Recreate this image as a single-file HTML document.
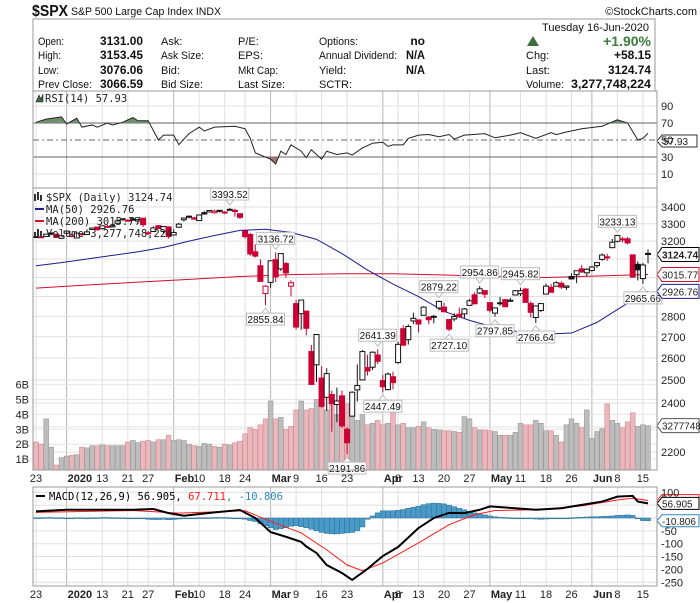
<!DOCTYPE html>
<html><head><meta charset="utf-8">
<style>
html,body{margin:0;padding:0;background:#fff;}
body{width:700px;height:603px;overflow:hidden;font-family:"Liberation Sans",sans-serif;}
svg{display:block;}
.hd{font-family:"Liberation Sans",sans-serif;font-size:11px;fill:#111;}
.hb{font-family:"Liberation Sans",sans-serif;font-size:12px;font-weight:bold;fill:#111;}
.ax{font-family:"Liberation Sans",sans-serif;font-size:11px;fill:#222;}
.tg{font-family:"Liberation Sans",sans-serif;font-size:10px;fill:#222;}
.axb{font-family:"Liberation Sans",sans-serif;font-size:11px;font-weight:bold;fill:#222;}
.lbl{font-family:"DejaVu Sans Mono","Liberation Mono",monospace;font-size:10.5px;fill:#222;}
.co{font-family:"Liberation Sans",sans-serif;font-size:10px;fill:#111;}
</style></head>
<body>
<svg id="chart" width="700" height="603" viewBox="0 0 700 603" xmlns="http://www.w3.org/2000/svg">
<defs>
<clipPath id="clipMain"><rect x="33" y="188" width="624" height="282"/></clipPath>
<clipPath id="clipRsi"><rect x="33" y="91" width="624" height="97"/></clipPath>
<clipPath id="clipMacd"><rect x="33" y="487" width="624" height="99"/></clipPath>
<clipPath id="clipOver70"><rect x="33" y="91" width="624" height="32"/></clipPath>
<clipPath id="clipUnder30"><rect x="33" y="157" width="624" height="31"/></clipPath>
</defs>
<g>
<text x="32" y="16" font-family="Liberation Sans,sans-serif" font-size="16" font-weight="bold" fill="#111" textLength="36" lengthAdjust="spacingAndGlyphs">$SPX</text>
<text x="71" y="15" class="hd" textLength="150" lengthAdjust="spacingAndGlyphs">S&amp;P 500 Large Cap Index  INDX</text>
<text x="697" y="15" class="hd" text-anchor="end" font-size="10.5">©StockCharts.com</text>
<rect x="33" y="19" width="622" height="72" fill="none" stroke="#999"/>
<text x="649" y="31" class="hd" text-anchor="end" textLength="107" lengthAdjust="spacingAndGlyphs">Tuesday  16-Jun-2020</text>
<text x="38" y="45" class="hd" textLength="26" lengthAdjust="spacingAndGlyphs">Open:</text>
<text x="143" y="45" class="hb" text-anchor="end" textLength="43" lengthAdjust="spacingAndGlyphs">3131.00</text>
<text x="38" y="59" class="hd" textLength="23" lengthAdjust="spacingAndGlyphs">High:</text>
<text x="143" y="59" class="hb" text-anchor="end" textLength="43" lengthAdjust="spacingAndGlyphs">3153.45</text>
<text x="38" y="74" class="hd" textLength="21" lengthAdjust="spacingAndGlyphs">Low:</text>
<text x="143" y="74" class="hb" text-anchor="end" textLength="43" lengthAdjust="spacingAndGlyphs">3076.06</text>
<text x="38" y="88" class="hd" textLength="54" lengthAdjust="spacingAndGlyphs">Prev Close:</text>
<text x="143" y="88" class="hb" text-anchor="end" textLength="43" lengthAdjust="spacingAndGlyphs">3066.59</text>
<text x="161" y="45" class="hd">Ask:</text>
<text x="161" y="59" class="hd" textLength="43" lengthAdjust="spacingAndGlyphs">Ask Size:</text>
<text x="161" y="74" class="hd">Bid:</text>
<text x="161" y="88" class="hd" textLength="42" lengthAdjust="spacingAndGlyphs">Bid Size:</text>
<text x="238" y="45" class="hd">P/E:</text>
<text x="238" y="59" class="hd">EPS:</text>
<text x="238" y="74" class="hd" textLength="40" lengthAdjust="spacingAndGlyphs">Mkt Cap:</text>
<text x="238" y="88" class="hd" textLength="47" lengthAdjust="spacingAndGlyphs">Last Size:</text>
<text x="319" y="45" class="hd" textLength="39" lengthAdjust="spacingAndGlyphs">Options:</text>
<text x="425" y="45" class="hb" text-anchor="end">no</text>
<text x="319" y="59" class="hd" textLength="78" lengthAdjust="spacingAndGlyphs">Annual Dividend:</text>
<text x="425" y="59" class="hb" text-anchor="end" textLength="19" lengthAdjust="spacingAndGlyphs">N/A</text>
<text x="319" y="74" class="hd">Yield:</text>
<text x="425" y="74" class="hb" text-anchor="end" textLength="19" lengthAdjust="spacingAndGlyphs">N/A</text>
<text x="319" y="88" class="hd">SCTR:</text>
<polygon points="527,46 533,36 539,46" fill="#3d6b3d"/>
<text x="651" y="46" text-anchor="end" font-family="Liberation Sans,sans-serif" font-size="14" font-weight="bold" fill="#3d7a3d">+1.90%</text>
<text x="526" y="59" class="hd">Chg:</text>
<text x="651" y="59" class="hb" text-anchor="end" textLength="37" lengthAdjust="spacingAndGlyphs">+58.15</text>
<text x="526" y="74" class="hd">Last:</text>
<text x="651" y="74" class="hb" text-anchor="end" textLength="43" lengthAdjust="spacingAndGlyphs">3124.74</text>
<text x="526" y="88" class="hd" textLength="38" lengthAdjust="spacingAndGlyphs">Volume:</text>
<text x="651" y="88" class="hb" text-anchor="end" textLength="80" lengthAdjust="spacingAndGlyphs">3,277,748,224</text>
</g>
<g id="grid"></g>
<g id="rsi"></g>
<g id="main"></g>
<g id="macd"></g>
<g id="axes"></g>
</svg>
<script>
// ---------- data ----------
const dayCount = 121; // Dec 23 2019 .. Jun 16 2020
const openP = [3226,3225,3227,3247,3240,3216,
3245,3226,3218,3242,3238,3267,3281,3272,3285,3282,3303,3323,3321,3330,3316,3333,3248,3255,3289,3256,3282,
3235,3280,3324,3344,3335,3319,3366,3370,3365,3378,3370,3380,3380,3360,3258,3238,3140,3063,2916,
2974,3096,3046,3075,2954,2864,2813,2826,2630,2569,2509,2425,2437,2394,2431,2291,2345,2457,2501,2556,2558,2614,
2498,2458,2515,2579,2739,2686,2777,2782,2805,2796,2799,2842,2846,2784,2787,2810,2812,2855,2909,2918,2931,
2869,2816,2868,2884,2879,2908,2915,2939,2865,2794,2829,2913,2948,2954,2969,2948,3005,3015,3046,3025,
3038,3064,3098,3112,3163,3199,3213,3213,3123,3071,2994,3131];
const highP = [3227,3226,3240,3247,3241,3232,
3258,3246,3247,3245,3268,3275,3283,3289,3294,3299,3317,3330,3329,3337,3326,3334,3258,3285,3293,3286,3282,
3268,3306,3337,3348,3341,3352,3375,3381,3385,3380,3375,3394,3390,3360,3259,3247,3182,3098,2959,
3091,3137,3131,3084,2985,2883,2882,2826,2661,2712,2563,2553,2454,2467,2454,2300,2450,2571,2637,2615,2631,2641,
2522,2534,2538,2676,2756,2760,2818,2782,2851,2801,2807,2879,2868,2785,2815,2844,2842,2887,2922,2955,2931,
2869,2843,2898,2888,2893,2933,2946,2945,2875,2852,2865,2968,2965,2980,2979,2956,3022,3036,3068,3050,
3063,3081,3131,3129,3212,3233,3223,3223,3124,3088,3079,3153];
const lowP = [3222,3220,3227,3234,3217,3212,
3236,3222,3215,3233,3236,3264,3260,3267,3277,3281,3302,3318,3316,3320,3301,3281,3234,3255,3272,3243,3214,
3235,3280,3313,3332,3322,3317,3353,3369,3360,3367,3357,3379,3342,3328,3214,3118,3108,2977,2856,
2946,2976,3035,2999,2901,2735,2734,2707,2478,2492,2381,2367,2281,2320,2296,2192,2345,2407,2500,2521,2545,2572,
2447,2455,2459,2574,2657,2663,2762,2721,2805,2761,2765,2830,2820,2727,2775,2791,2791,2853,2860,2913,2892,
2821,2798,2853,2847,2872,2907,2903,2869,2794,2767,2821,2913,2922,2954,2938,2934,2991,2970,3024,3007,
3032,3051,3091,3090,3163,3193,3194,3181,2999,2984,2966,3076];
const closeP = [3224,3223,3240,3240,3221,3231,
3258,3235,3246,3237,3253,3275,3265,3288,3283,3289,3317,3330,3321,3321,3325,3295,3244,3276,3273,3284,3226,
3249,3298,3334,3345,3328,3352,3358,3379,3374,3380,3370,3386,3373,3338,3226,3128,3116,2979,2954,
3090,3003,3130,3024,2972,2747,2882,2741,2481,2711,2386,2529,2398,2409,2305,2237,2447,2476,2630,2541,2627,2585,
2471,2527,2489,2664,2660,2750,2790,2762,2846,2783,2800,2875,2823,2737,2799,2798,2837,2878,2863,2940,2912,
2830,2842,2868,2848,2881,2930,2930,2870,2820,2852,2864,2954,2922,2972,2949,2955,2992,3036,3030,3044,
3056,3080,3122,3112,3194,3232,3207,3190,3002,3041,3067,3125];
const volumeB = [2.15,2.0,3.7,1.8,0.6,1.1,
1.2,1.25,1.3,1.8,1.75,1.9,1.9,1.95,1.9,1.9,1.9,1.9,2.15,2.25,2.1,2.2,2.25,2.15,2.3,2.3,2.6,
2.25,2.3,2.25,2.0,1.9,1.85,2.05,2.0,1.85,1.8,2.0,1.95,2.1,2.2,2.7,3.1,3.0,3.3,3.7,
4.9,3.7,3.8,3.0,3.2,4.3,4.9,4.3,4.4,5.0,4.9,4.3,4.7,4.0,4.5,4.7,4.3,3.6,4.0,3.3,3.4,3.6,
3.3,3.4,4.3,3.3,3.4,3.1,3.1,3.2,3.5,3.1,3.0,2.95,2.9,2.9,2.85,2.8,3.85,3.7,3.1,2.95,2.95,2.9,2.85,
2.6,2.6,2.6,2.8,3.4,3.3,3.3,3.6,3.4,2.9,2.9,2.6,2.15,3.3,3.7,3.4,3.1,4.3,2.4,2.85,
3.05,4.7,3.6,3.4,3.1,3.5,4.1,3.2,3.3,3.25,3.25,3.28];
const ma50Idx = [0,5,10,15,20,25,30,35,40,45,50,55,60,65,70,75,80,85,90,95,100,105,110,115,120];
const ma50Val = [3063,3080,3100,3120,3140,3165,3200,3232,3262,3268,3250,3210,3130,3040,2965,2900,2825,2780,2745,2722,2713,2718,2770,2850,2927];
const ma200Idx = [0,10,20,30,40,50,60,70,80,90,100,110,120];
const ma200Val = [2944,2960,2975,2990,3005,3015,3020,3020,3013,3005,3000,3008,3016];
const rsiIdx = [0,2,5,6,8,9,11,12,14,15,17,19,20,22,24,25,27,28,30,32,33,35,39,41,42,43,46,47,48,49,50,52,53,54,56,57,59,61,62,64,66,68,69,70,72,73,75,77,79,81,82,84,88,90,93,95,98,101,102,104,107,111,114,116,118,119,120];
const rsiVal = [70.8,74.5,77.2,68.9,75.7,65.1,67.7,65.1,70.0,67.7,70.8,76.4,72.6,72.6,50.0,55.8,55.8,44.5,57.5,65.1,60.6,65.1,66.2,63.2,52.0,34.9,27.4,21.8,36.8,33.0,44.3,36.8,29.2,38.7,27.4,36.8,33.0,34.9,32.3,40.6,46.2,47.4,42.5,44.3,44.3,51.9,55.7,56.4,53.8,56.4,51.1,55.7,57.5,52.6,55.7,58.7,51.9,58.7,56.4,59.4,63.2,66.2,73.8,70.0,50.0,51.9,57.9];
const macdIdx = [0,6,19,23,26,29,35,40,43,46,49,52,53,55,57,60,62,65,68,71,75,78,81,84,87,89,94,98,103,107,111,114,117,118,120];
const macdVal = [26,32,32,35,19,9,22,31,0,-55,-73,-93,-111,-136,-183,-214,-241,-198,-148,-113,-39,0,20,19,32,45,38,32,38,51,64,83,86,64,57];
const sigIdx = [0,19,28,35,41,46,52,57,61,64,68,75,81,86,90,98,107,114,117,120];
const sigVal = [22,29,19,24,28,-13,-58,-124,-183,-205,-175,-97,-26,13,29,32,47,70,77,68];
const histVal = [1,1,2,2,1,1,0,0,1,1,0,1,1,2,2,1,1,1,0,-1,-2,-3,-5,-6,-6,-5,-7,-6,-4,-2,-1,0,1,1,1,2,2,2,1,0,-2,
-5,-10,-14,-22,-30,-38,-45,-42,-38,-32,-30,-34,-38,-44,-50,-56,-60,-62,-62,-60,-58,-56,-50,-35,-5,8,20,28,28,28,30,33,38,42,46,52,56,58,57,55,50,44,38,32,26,20,15,12,8,5,3,
2,1,0,-1,-1,-2,-4,-5,-4,-3,-2,-1,0,1,2,3,4,5,5,6,7,8,10,11,12,10,-3,-10,-10.8];
const priceTicks = [3400,3300,3200,3100,3000,2900,2800,2700,2600,2500,2400,2300,2200];
const priceTickLabels = ["3400","3300","3200","","","","2800","2700","2600","2500","2400","","2200"];
const volTicks = [1,2,3,4,5,6];
const rsiTicks = [90,70,50,30,10];
const macdTicks = [100,50,0,-50,-100,-150,-200,-250];
const macdTickLabels = ["100","","","-50","-100","-150","-200","-250"];
const dateTickIdx = [0,6,13,18,22,27,32,37,41,46,51,56,61,68,71,75,80,85,89,95,100,105,109,114,119];
const dateTickLabels = ["23","2020","13","21","27","Feb","10","18","24","Mar","9","16","23","Apr","6","13","20","27","May","11","18","26","Jun","8","15"];
const dateTickMajor = [0,1,0,0,0,1,0,0,0,1,0,0,0,1,0,0,0,0,1,0,0,0,1,0,0];
const calloutIdx = [38,47,45,61,67,68,79,81,87,90,95,98,114,119];
const calloutSide = ["hi","hi","lo","lo","hi","lo","hi","lo","hi","lo","hi","lo","hi","lo"];
const calloutText = ["3393.52","3136.72","2855.84","2191.86","2641.39","2447.49","2879.22","2727.10","2954.86","2797.85","2945.82","2766.64","3233.13","2965.66"];

// ---------- scales ----------
const NS = "http://www.w3.org/2000/svg";
function xS(i){ return 36 + i*5.1; }
function yP(p){ return 207 + 563*Math.log(3400/p); }
function yV(v){ return 474 - v*14.9; }
function yR(v){ return 123 + (70-v)*0.85; }
function yM(v){ return 518 - v*0.257; }
function mk(parent, tag, attrs, txt){
  const e = document.createElementNS(NS, tag);
  for (const k in attrs) e.setAttribute(k, attrs[k]);
  if (txt !== undefined) e.textContent = txt;
  parent.appendChild(e); return e;
}
const G = document.getElementById('grid');
const R = document.getElementById('rsi');
const M = document.getElementById('main');
const C = document.getElementById('macd');
const A = document.getElementById('axes');

const panels = [[91,188],[188,470],[487,586]];
panels.forEach(function(p){
  const r = mk(G,'rect',{x:33,y:p[0],width:624,height:p[1]-p[0],fill:'#fff',stroke:'none'});
  
  
});
panels.forEach(function(p){
  dateTickIdx.forEach(function(d, j){
    const l = mk(G,'line',{x1:xS(d),x2:xS(d),y1:p[0],y2:p[1],stroke:dateTickMajor[j]?'#b4b4b4':'#e0e0e0','stroke-width':1});
    
    
  });
});
priceTicks.forEach(function(t, j){
  const y = yP(t);
  const l = mk(G,'line',{x1:33,x2:657,y1:y,y2:y,stroke:'#e0e0e0'});
  
  
  if (priceTickLabels[j]) {
    const tx = mk(A,'text',{x:661,y:y+4,class:'ax'}, priceTickLabels[j]);
    
    
  }
});
volTicks.forEach(function(t){
  const y = yV(t);
  const l = mk(G,'line',{x1:33,x2:657,y1:y,y2:y,stroke:'#e6e6e6'});
  
  
  const tx = mk(A,'text',{x:29,y:y+4,class:'ax','text-anchor':'end'}, t+'B');
  
  
});
rsiTicks.forEach(function(t){
  const y = yR(t);
  const strong = (t===70||t===30||t===50);
  const l = mk(G,'line',{x1:33,x2:657,y1:y,y2:y,stroke:strong?'#666':'#e0e0e0','stroke-dasharray':t===50?'6,3,2,3':'none'});
  
  
  const tx = mk(A,'text',{x:661,y:y+4,class:'ax'}, String(t));
  
  
});
macdTicks.forEach(function(t, j){
  const y = yM(t);
  const l = mk(G,'line',{x1:33,x2:657,y1:y,y2:y,stroke:'#e0e0e0'});
  
  
  if (macdTickLabels[j]) {
    const tx = mk(A,'text',{x:661,y:y+4,class:'ax'}, macdTickLabels[j]);
    
    
  }
});

// ---------- RSI ----------
let rsiPts = rsiIdx.map(function(d,i){ return xS(d)+','+yR(rsiVal[i]); });
const y70 = yR(70), y30 = yR(30);
const fillUp = mk(R,'polygon',{points: xS(rsiIdx[0])+','+y70+' '+rsiPts.join(' ')+' '+xS(rsiIdx[rsiIdx.length-1])+','+y70, fill:'#6f8f6f','clip-path':'url(#clipOver70)'});


const fillDn = mk(R,'polygon',{points: xS(rsiIdx[0])+','+y30+' '+rsiPts.join(' ')+' '+xS(rsiIdx[rsiIdx.length-1])+','+y30, fill:'#a07474','clip-path':'url(#clipUnder30)'});


const rsiLine = mk(R,'polyline',{points: rsiPts.join(' '), fill:'none', stroke:'#222','stroke-width':1});


const rsiLbl = mk(R,'text',{x:45,y:102,class:'lbl'}, 'RSI(14) 57.93');


const rsiIcon = mk(R,'path',{d:'M36 102 L39 95 L41 99 L43 94 L43 102 Z', fill:'#3d6b3d', stroke:'#222','stroke-width':0.6});


const rsiTag = mk(R,'path',{d:'M657 141 L662 135 L697 135 L697 147 L662 147 Z', fill:'#fff', stroke:'#333'});


const rsiTagT = mk(R,'text',{x:663,y:145,class:'tg'}, '57.93');



// ---------- Volume ----------
const gVol = mk(M,'g',{'clip-path':'url(#clipMain)'});
for (let i=0;i<dayCount;i++){
  const down = i>0 ? closeP[i] < closeP[i-1] : closeP[i] < openP[i];
  const y = yV(volumeB[i]);
  const b = mk(gVol,'rect',{x:xS(i)-2.4,y:y,width:4.8,height:474-y,fill:down?'#e8b8bc':'#bdbdbd',stroke:down?'#d88a92':'#999','stroke-width':0.6});
  
  
}
const ma200Line = mk(M,'polyline',{points: ma200Idx.map(function(d,i){return xS(d)+','+yP(ma200Val[i]);}).join(' '), fill:'none', stroke:'#d0102c','stroke-width':1,'clip-path':'url(#clipMain)'});


const ma50Line = mk(M,'polyline',{points: ma50Idx.map(function(d,i){return xS(d)+','+yP(ma50Val[i]);}).join(' '), fill:'none', stroke:'#1c1c8c','stroke-width':1,'clip-path':'url(#clipMain)'});


const gC = mk(M,'g',{'clip-path':'url(#clipMain)'});
for (let i=0;i<dayCount;i++){
  const down = i>0 ? closeP[i] < closeP[i-1] : false;
  const col = down ? '#cc0033' : '#111';
  const hollow = closeP[i] >= openP[i];
  const x = xS(i);
  const w = mk(gC,'line',{x1:x,x2:x,y1:yP(highP[i]),y2:yP(lowP[i]),stroke:col,'stroke-width':1});
  
  
  const yt = yP(Math.max(openP[i],closeP[i])), yb = yP(Math.min(openP[i],closeP[i]));
  const body = mk(gC,'rect',{x:x-2.5,y:yt,width:5,height:Math.max(1,yb-yt),fill:hollow?'#fff':col,stroke:col,'stroke-width':1});
  
  
}
calloutIdx.forEach(function(d, j){
  const x = xS(d);
  const hi = calloutSide[j]==='hi';
  const yA = hi ? yP(highP[d]) - 3 : yP(lowP[d]) + 3;
  const yBox = hi ? yA - 17 : yA + 5;
  const g = mk(M,'g',{});
  
  
  mk(g,'path',{d: hi ? ('M'+(x-4)+' '+(yBox+12)+' L'+x+' '+yA+' L'+(x+4)+' '+(yBox+12)) : ('M'+(x-4)+' '+yBox+' L'+x+' '+yA+' L'+(x+4)+' '+yBox), fill:'#fff', stroke:'#bbb'});
  mk(g,'rect',{x:x-19,y:yBox,width:38,height:12,fill:'#fff',stroke:'#bbb'});
  mk(g,'text',{x:x,y:yBox+10,class:'co','text-anchor':'middle'}, calloutText[j]);
});
const leg = [['$SPX (Daily) 3124.74','#222',201],['MA(50) 2926.76','#1c1c8c',213],['MA(200) 3015.77','#d0102c',225],['Volume 3,277,748,224','#555',237]];
leg.forEach(function(l, j){
  const t = mk(M,'text',{x:46,y:l[2],class:'lbl',fill:l[1]}, l[0]);
  
  
  if (j===1||j===2){ mk(M,'line',{x1:35,x2:44,y1:l[2]-4,y2:l[2]-4,stroke:l[1],'stroke-width':2}); }
});
mk(M,'path',{d:'M35 201 V194 M38 200 V192 M41 201 V195 M35 237 V232 M38 237 V229 M41 237 V231',stroke:'#333','stroke-width':2});
const tags = [[3124.74,'3124.74','#000',true],[3015.77,'3015.77','#d0102c',false],[2926.76,'2926.76','#1c1c8c',false]];
tags.forEach(function(t){
  const y = yP(t[0]);
  const g = mk(M,'g',{});
  
  
  mk(g,'path',{d:'M657 '+y+' L662 '+(y-7)+' L699 '+(y-7)+' L699 '+(y+7)+' L662 '+(y+7)+' Z',fill:'#fff',stroke:t[2],'stroke-width':1});
  mk(g,'text',{x:662,y:y+4,class:'tg','font-weight':t[3]?'bold':'normal','font-size':t[3]?'11':'10.5'}, t[1]);
});
const vy = yV(volumeB[dayCount-1]);
const vtag = mk(M,'g',{});


mk(vtag,'path',{d:'M657 '+vy+' L662 '+(vy-7)+' L699 '+(vy-7)+' L699 '+(vy+7)+' L662 '+(vy+7)+' Z',fill:'#fff',stroke:'#555'});
mk(vtag,'text',{x:662,y:vy+4,class:'tg'}, '3277748');

// ---------- MACD ----------
const gH = mk(C,'g',{'clip-path':'url(#clipMacd)'});
for (let i=0;i<dayCount;i++){
  const y0 = yM(0), y1 = yM(histVal[i]);
  const b = mk(gH,'rect',{x:xS(i)-2.55,y:Math.min(y0,y1),width:5.1,height:Math.max(0.8,Math.abs(y1-y0)),fill:'#4a9ac8',stroke:'#2c6f95','stroke-width':0.5});
  
  
}
const sigLine = mk(C,'polyline',{points: sigIdx.map(function(d,i){return xS(d)+','+yM(sigVal[i]);}).join(' '), fill:'none', stroke:'#ff1a1a','stroke-width':1,'clip-path':'url(#clipMacd)'});


const macdLine = mk(C,'polyline',{points: macdIdx.map(function(d,i){return xS(d)+','+yM(macdVal[i]);}).join(' '), fill:'none', stroke:'#000','stroke-width':2,'clip-path':'url(#clipMacd)'});


const ml = mk(C,'text',{x:49,y:500,class:'lbl'});


mk(ml,'tspan',{fill:'#000'}, 'MACD(12,26,9) 56.905, ');
mk(ml,'tspan',{fill:'#ff1a1a'}, '67.711');
mk(ml,'tspan',{fill:'#2c8ac0'}, ', -10.806');
mk(C,'line',{x1:36,x2:45,y1:496,y2:496,stroke:'#000','stroke-width':2});
const mt = [[67.711,'','#ff1a1a'],[56.905,'56.905','#000'],[-10.806,'-10.806','#2c8ac0']];
mt.forEach(function(t){
  const y = yM(t[0]);
  const g = mk(C,'g',{});
  
  
  mk(g,'path',{d:'M657 '+y+' L662 '+(y-6)+' L699 '+(y-6)+' L699 '+(y+6)+' L662 '+(y+6)+' Z',fill:'#fff',stroke:t[2]});
  if (t[1]) mk(g,'text',{x:662,y:y+4,class:'tg'}, t[1]);
});

panels.forEach(function(p){
  const r = mk(A,'rect',{x:33,y:p[0],width:624,height:p[1]-p[0],fill:'none',stroke:'#999'});
  
  
});
[482,598].forEach(function(yy){
  dateTickIdx.forEach(function(d, j){
    const major = dateTickMajor[j];
    const t = mk(A,'text',{x: major ? xS(d)+1 : xS(d), y: yy, class: major?'axb':'ax','text-anchor': major?'start':'middle'}, dateTickLabels[j]);
    
    
  });
});
</script>
</body></html>
